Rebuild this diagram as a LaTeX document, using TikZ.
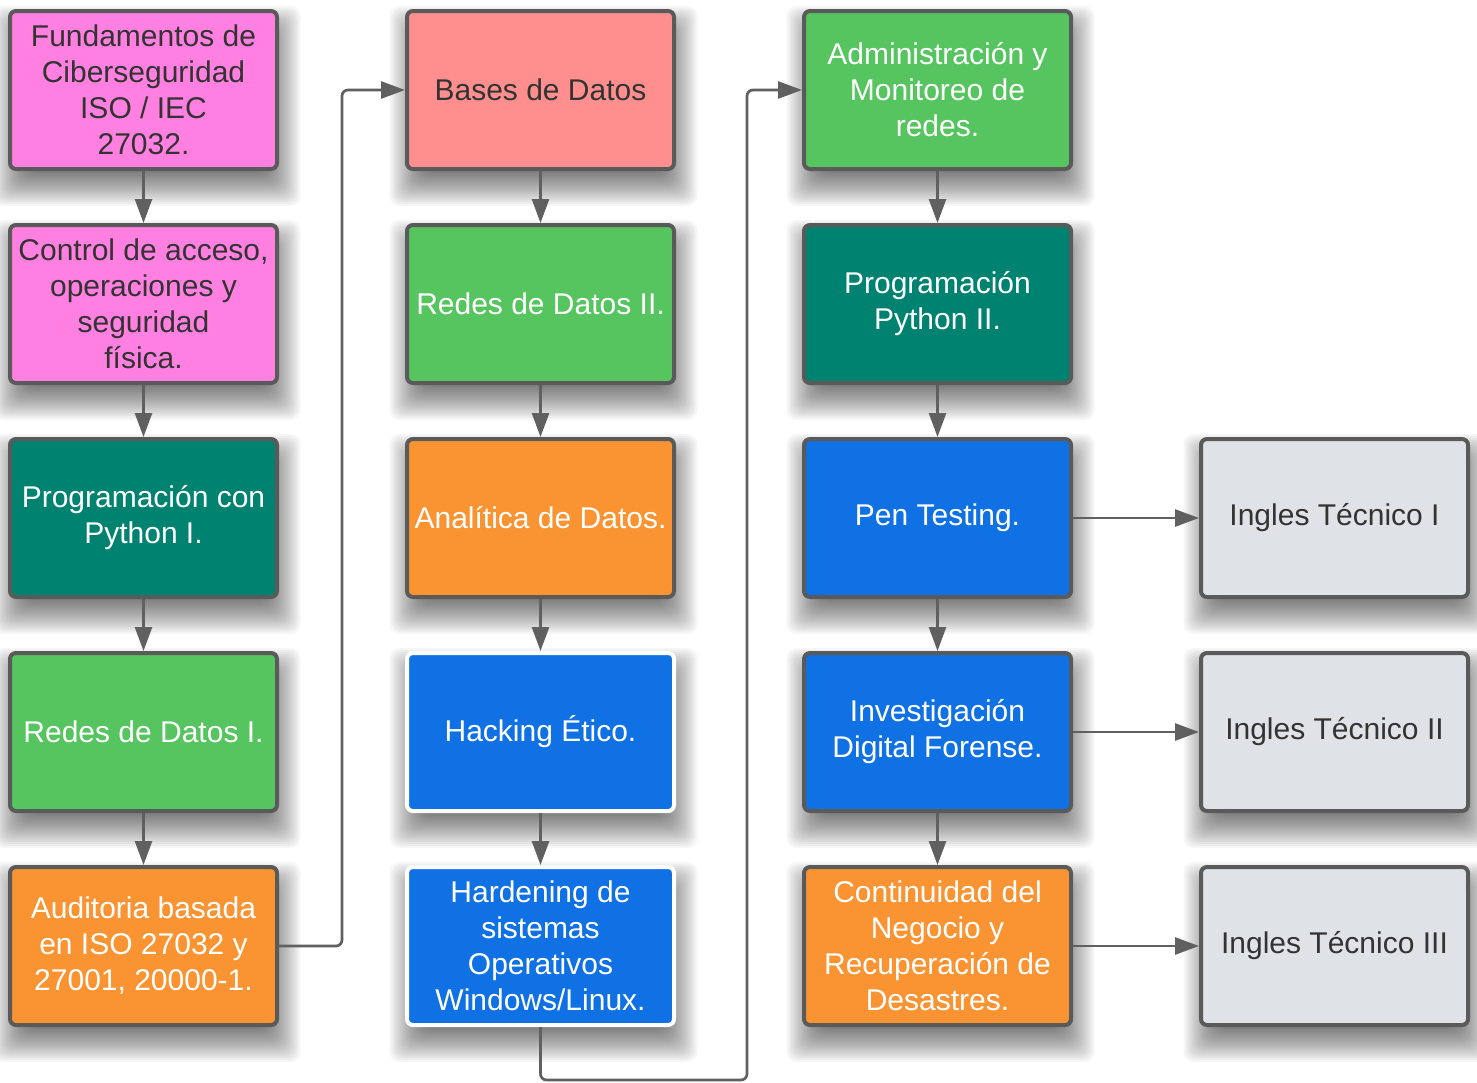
\documentclass[tikz,border=0pt]{standalone}
\usepackage{fontspec}
\setmainfont{Liberation Sans}
\usetikzlibrary{arrows.meta}
\definecolor{cpink}{HTML}{FF80E0}
\definecolor{csalmon}{HTML}{FF8F8F}
\definecolor{cgreen}{HTML}{56C45F}
\definecolor{cteal}{HTML}{008270}
\definecolor{corange}{HTML}{FA9433}
\definecolor{cblue}{HTML}{1071E5}
\definecolor{cgray}{HTML}{DFE2E7}
\definecolor{bordergray}{HTML}{5A5A5A}
\definecolor{linegray}{HTML}{606060}
\definecolor{textdark}{HTML}{333333}
\newcommand{\myshadow}[2]{%
  \foreach \e in {-14,-12,...,20}{%
    \fill[black, opacity=0.035, rounded corners=10pt]
      ({#1-134-\e+3},{#2-80-\e+16}) rectangle ({#1+134+\e+3},{#2+80+\e+16});
  }%
}
\begin{document}
\begin{tikzpicture}[x=1pt,y=-1pt,
  box/.style={draw=bordergray, line width=4pt, rounded corners=6pt,
    minimum width=267pt, minimum height=158pt, inner sep=0pt, align=center,
    font=\fontsize{30}{36}\selectfont},
  lightbox/.style={box, text=textdark},
  darkbox/.style={box, text=white},
  selbox/.style={box, draw=white, text=white},
  conn/.style={draw=linegray, line width=2.7pt, -{Triangle[length=24pt,width=17pt]}},
]
\useasboundingbox (0,0) rectangle (1477,1082);
\fill[white] (0,0) rectangle (1477,1082);
% shadows
\foreach \cx in {143.5,540.5,937.5}{
  \foreach \cy in {90,304,518,732,946}{
    \myshadow{\cx}{\cy}
  }
}
\foreach \cy in {518,732,946}{ \myshadow{1334.5}{\cy} }
% column 1
\node[lightbox, fill=cpink] (b11) at (143.5,90) {Fundamentos de\\Ciberseguridad\\ISO / IEC\\27032.};
\node[lightbox, fill=cpink] (b12) at (143.5,304) {Control de acceso,\\operaciones y\\seguridad\\física.};
\node[darkbox, fill=cteal] (b13) at (143.5,518) {Programación con\\Python I.};
\node[darkbox, fill=cgreen] (b14) at (143.5,732) {Redes de Datos I.};
\node[darkbox, fill=corange] (b15) at (143.5,946) {Auditoria basada\\en ISO 27032 y\\27001, 20000-1.};
% column 2
\node[lightbox, fill=csalmon] (b21) at (540.5,90) {Bases de Datos};
\node[darkbox, fill=cgreen] (b22) at (540.5,304) {Redes de Datos II.};
\node[darkbox, fill=corange] (b23) at (540.5,518) {Analítica de Datos.};
\node[selbox, fill=cblue] (b24) at (540.5,732) {Hacking Ético.};
\node[selbox, fill=cblue] (b25) at (540.5,946) {Hardening de\\sistemas\\Operativos\\Windows/Linux.};
% column 3
\node[darkbox, fill=cgreen] (b31) at (937.5,90) {Administración y\\Monitoreo de\\redes.};
\node[darkbox, fill=cteal] (b32) at (937.5,304) {Programación\\Python II.};
\node[darkbox, fill=cblue] (b33) at (937.5,518) {Pen Testing.};
\node[darkbox, fill=cblue] (b34) at (937.5,732) {Investigación\\Digital Forense.};
\node[darkbox, fill=corange] (b35) at (937.5,946) {Continuidad del\\Negocio y\\Recuperación de\\Desastres.};
% column 4
\node[lightbox, fill=cgray] (b43) at (1334.5,518) {Ingles Técnico I};
\node[lightbox, fill=cgray] (b44) at (1334.5,732) {Ingles Técnico II};
\node[lightbox, fill=cgray] (b45) at (1334.5,946) {Ingles Técnico III};
% vertical connectors
\draw[conn] (b11) -- (b12);
\draw[conn] (b12) -- (b13);
\draw[conn] (b13) -- (b14);
\draw[conn] (b14) -- (b15);
\draw[conn] (b21) -- (b22);
\draw[conn] (b22) -- (b23);
\draw[conn] (b23) -- (b24);
\draw[conn] (b24) -- (b25);
\draw[conn] (b31) -- (b32);
\draw[conn] (b32) -- (b33);
\draw[conn] (b33) -- (b34);
\draw[conn] (b34) -- (b35);
% horizontal connectors
\draw[conn] (b33) -- (b43);
\draw[conn] (b34) -- (b44);
\draw[conn] (b35) -- (b45);
% routed connectors
\coordinate (r1) at (342,946);
\coordinate (r2) at (747,1080);
\draw[conn, rounded corners=6pt] (b15.east) -- (r1) |- (b21.west);
\draw[conn, rounded corners=6pt] (b25.south) |- (r2) |- (b31.west);
\end{tikzpicture}
\end{document}
